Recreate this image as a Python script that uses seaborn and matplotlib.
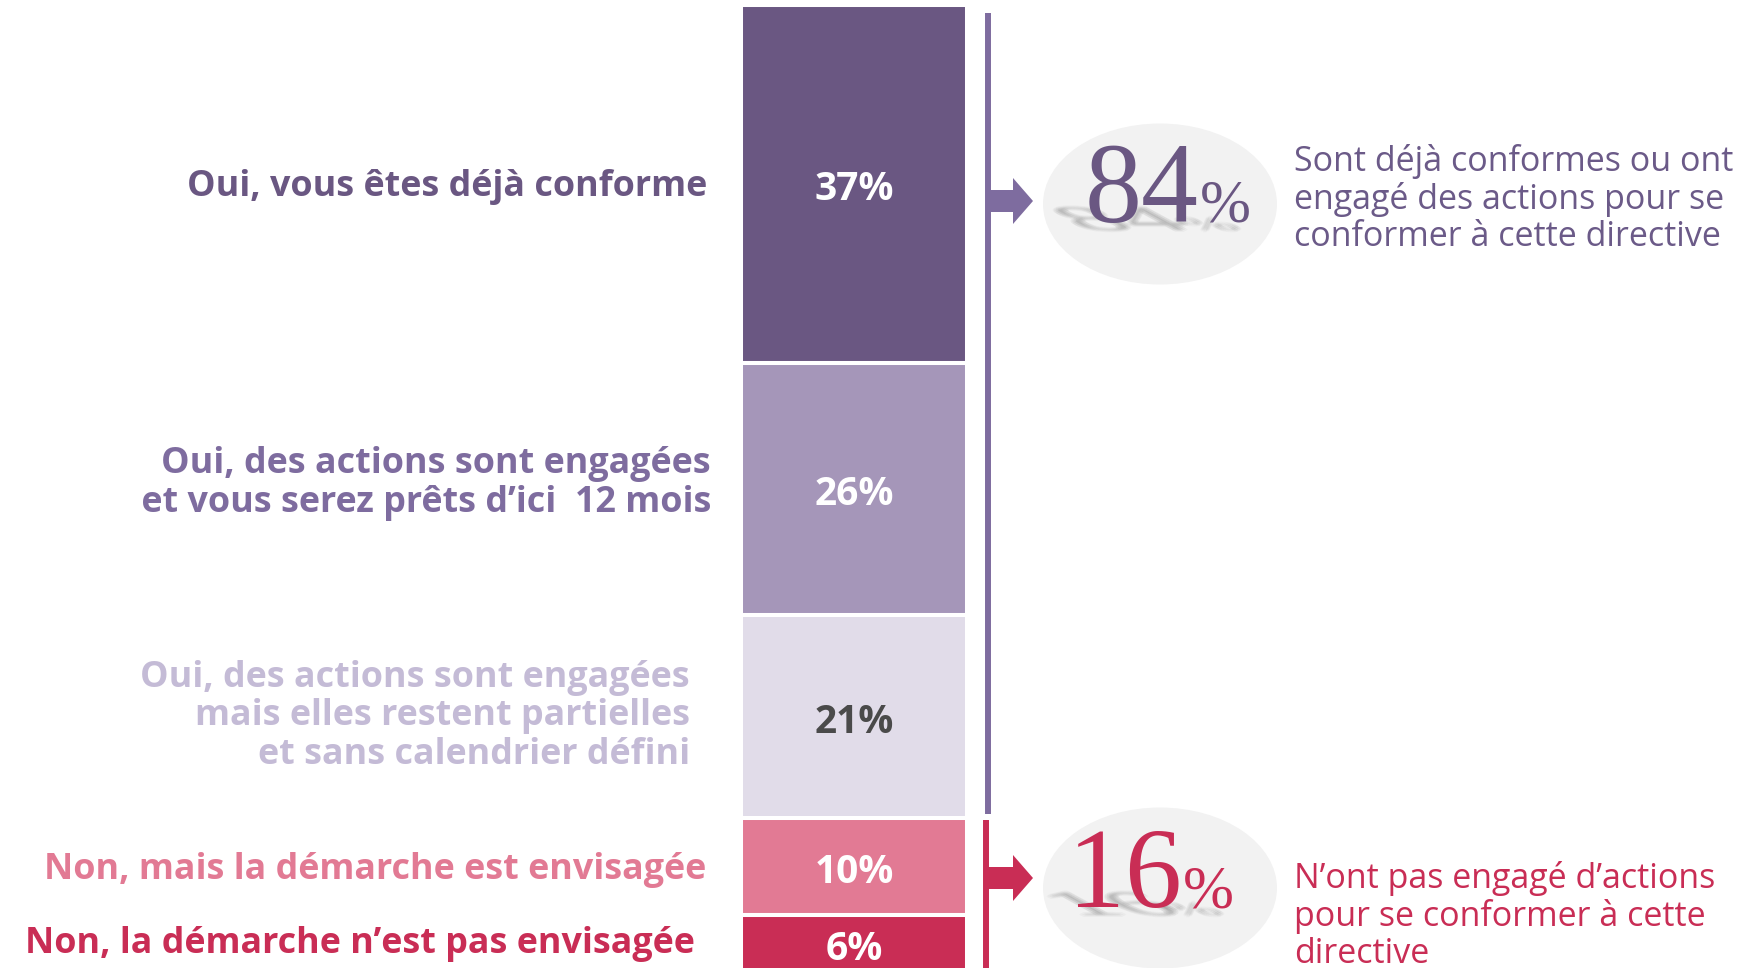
import numpy as np
import matplotlib
matplotlib.use("Agg")
import matplotlib.pyplot as plt
import matplotlib.transforms as mtransforms
from matplotlib.patches import Ellipse, FancyArrow, PathPatch
from matplotlib.textpath import TextPath
from matplotlib.font_manager import FontProperties
import seaborn as sns

# ---------------- data ----------------
categories = [
    "Oui, vous êtes déjà conforme",
    "Oui, des actions sont engagées\n et vous serez prêts d’ici  12 mois",
    "Oui, des actions sont engagées\nmais elles restent partielles\net sans calendrier défini",
    "Non, mais la démarche est envisagée",
    "Non, la démarche n’est pas envisagée",
]
values = [37, 26, 21, 10, 6]
value_labels = ["37%", "26%", "21%", "10%", "6%"]
group_sizes = [3, 2]
group_numbers = ["84", "16"]
group_texts = [
    "Sont déjà conformes ou ont\nengagé des actions pour se\nconformer à cette directive",
    "N’ont pas engagé d’actions\npour se conformer à cette\ndirective",
]

# ---------------- style ----------------
bar_colors = ["#6a5782", "#a596b9", "#e1dce9", "#e27a94", "#c92d55"]
value_colors = ["white", "white", "#4a4a4a", "white", "white"]
label_colors = ["#6a5782", "#7e6c9f", "#c4bbd6", "#e27a94", "#c92d55"]
group_colors = ["#7e6c9f", "#c92d55"]
number_colors = ["#6a5782", "#c92d55"]
text_colors = ["#6b5a88", "#c92d55"]

sns.set_theme(style="white")
plt.rcParams["font.family"] = ["Open Sans", "DejaVu Sans"]

W, H = 1747, 968
fig = plt.figure(figsize=(W / 100, H / 100), dpi=100)
fig.patch.set_facecolor("white")

# bar axes: y in percent (top -> bottom)
ax_bar = fig.add_axes([741 / W, 0, 226 / W, 1])
starts = np.concatenate([[0], np.cumsum(values)[:-1]])
for v, s, c in zip(values, starts, bar_colors):
    sns.barplot(x=["total"], y=[v], bottom=s, color=c, width=1, saturation=1,
                errorbar=None, edgecolor="white", linewidth=2.9, ax=ax_bar)
ax_bar.set_xlim(-0.5, 0.5)
ax_bar.set_ylim(963 / 9.68, -5 / 9.68)
ax_bar.axis("off")

for v, s, lab, col in zip(values, starts, value_labels, value_colors):
    ax_bar.text(0, s + v / 2 + 0.6, lab, ha="center", va="center", fontsize=28,
                fontweight="bold", color=col)

# overlay axes in pixel units for decorations
ax_over = fig.add_axes([0, 0, 1, 1])
ax_over.set_xlim(0, W)
ax_over.set_ylim(H, 0)
ax_over.axis("off")
ax_over.patch.set_alpha(0)

trans = mtransforms.blended_transform_factory(ax_over.transData, ax_bar.transData)

label_right = [707, 711, 690, 706, 695]
label_dy = [0.35, -0.6, 0, 0.35, 0.0]
for cat, v, s, col, xr, dy in zip(categories, values, starts, label_colors, label_right, label_dy):
    ax_bar.text(xr, s + v / 2 + dy, cat, transform=trans, ha="right", va="center",
                multialignment="right", fontsize=25.8, fontweight="bold", color=col,
                linespacing=1.1, clip_on=False)

# group brackets
ends = np.cumsum(values)
g0_start, g0_end = 0, ends[group_sizes[0] - 1]
g1_start, g1_end = g0_end, ends[-1]
ax_bar.plot([988, 988], [g0_start + 0.8, g0_end - 0.4], transform=trans,
            color=group_colors[0], lw=4.3, solid_capstyle="butt", clip_on=False)
ax_bar.plot([986, 986], [g1_start + 0.2, g1_end], transform=trans,
            color=group_colors[1], lw=4.3, solid_capstyle="butt", clip_on=False)

arrow_y = [201, 878]
arrow_x = [990, 988]
for ay, ax0, col in zip(arrow_y, arrow_x, group_colors):
    ax_over.add_patch(FancyArrow(ax0, ay, 1033 - ax0, 0, width=22, head_width=46,
                                 head_length=20, length_includes_head=True,
                                 color=col, lw=0))

ell_y = [204, 888]
for ey in ell_y:
    ax_over.add_patch(Ellipse((1160, ey), 234, 161, facecolor="#f2f2f2", lw=0))

# soft "floor" shadow of the big numbers
serif = FontProperties(family="Liberation Serif")
num_px, pct_px = 82 * 100 / 72, 44 * 100 / 72


def shadow(text, x_left, base, size):
    tp = TextPath((0, 0), text, size=size, prop=serif)
    rng = [(-3, 0), (3, 0), (0, -2), (0, 2), (0, 0), (-2, -1), (2, 1), (-2, 1), (2, -1)]
    for ox, oy in rng:
        tr = mtransforms.Affine2D().from_values(1, 0, -0.55, -0.3, x_left + ox - 8, base + 8 + oy)
        p = tr.transform_path(tp)
        ax_over.add_patch(PathPatch(p, facecolor="#555555", edgecolor="none", alpha=0.045))


base_y = [222, 907]
split_x = [1199, 1182]
for by, sx, num, col in zip(base_y, split_x, group_numbers, number_colors):
    w_num = TextPath((0, 0), num, size=num_px, prop=serif).get_extents().width
    shadow(num, sx - w_num, by, num_px)
    shadow("%", sx + 2, by, pct_px)
    ax_over.text(sx, by, num, ha="right", va="baseline", fontsize=82,
                 family="Liberation Serif", color=col)
    ax_over.text(sx + 1, by, "%", ha="left", va="baseline", fontsize=44,
                 family="Liberation Serif", color=col)

desc_y = [199, 916]
for dy_, txt, col in zip(desc_y, group_texts, text_colors):
    ax_over.text(1294, dy_, txt, ha="left", va="center", fontsize=24.5,
                 color=col, linespacing=1.12)

fig.savefig("out.png", dpi=100, facecolor="white")
